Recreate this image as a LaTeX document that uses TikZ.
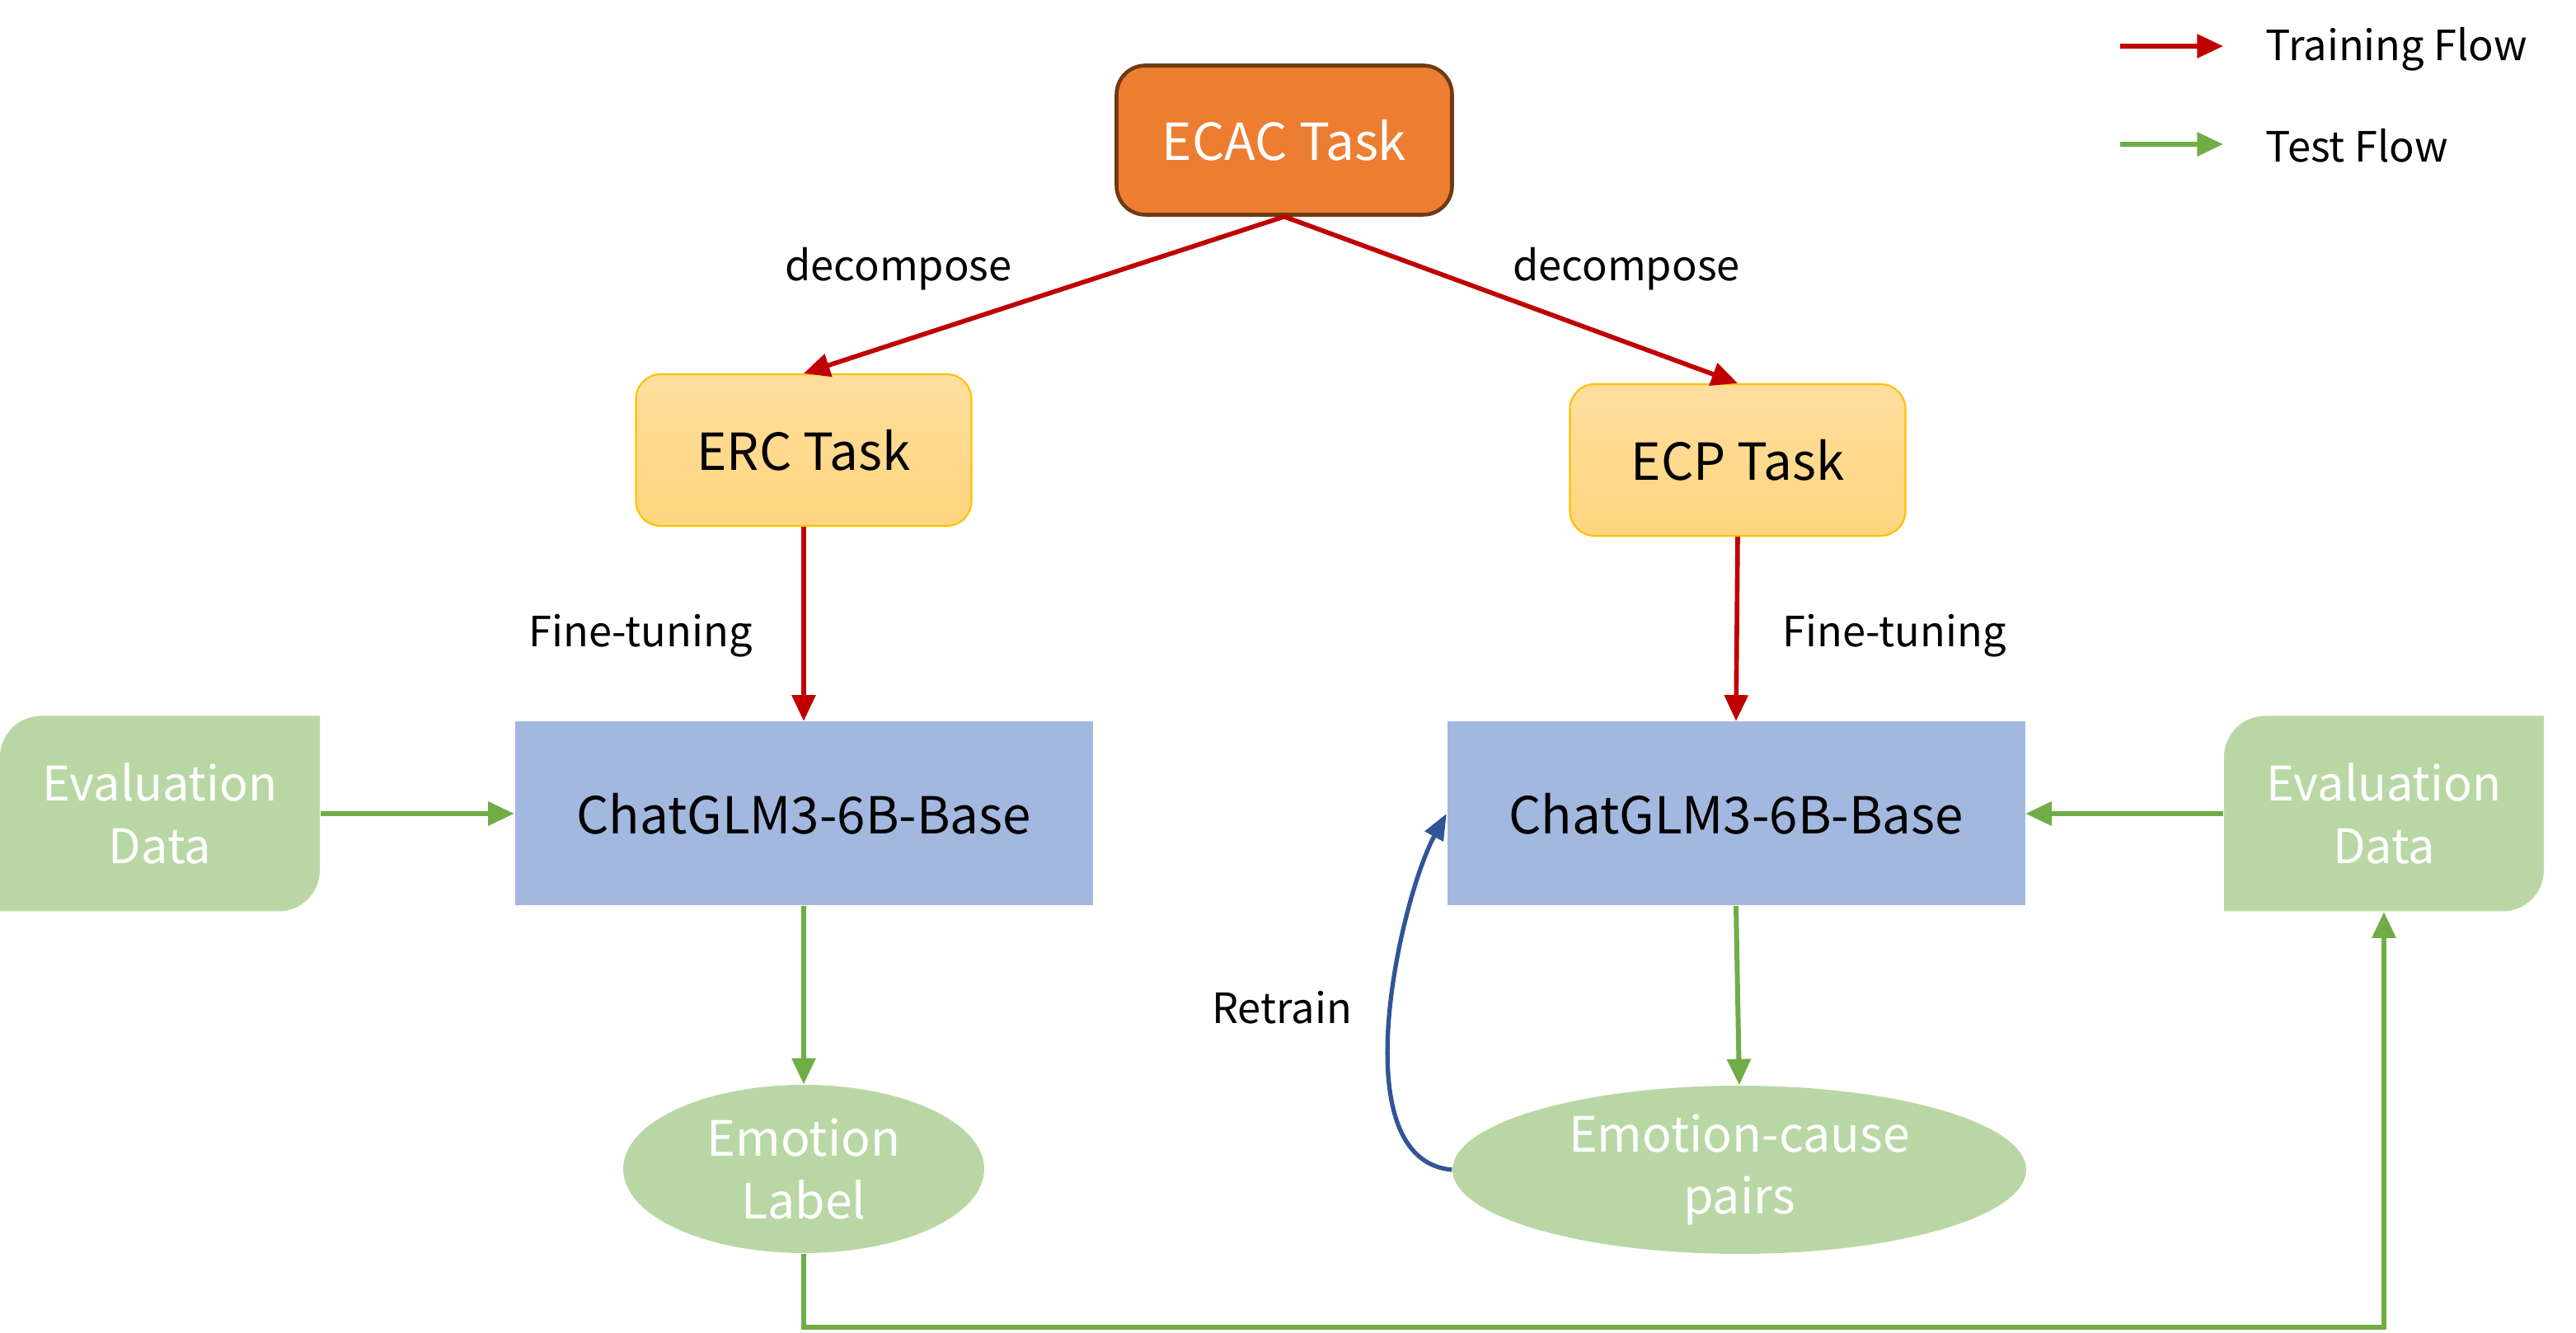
\documentclass[tikz,border=0pt]{standalone}
\usepackage{fontspec}
\setmainfont{Noto Sans CJK SC}
\usepackage{tikz}
\usetikzlibrary{arrows.meta,shapes.geometric}

\definecolor{ecacorange}{HTML}{ED7D31}
\definecolor{ecacbrown}{HTML}{6F3A12}
\definecolor{tasktop}{HTML}{FFDE9E}
\definecolor{taskbottom}{HTML}{FFD57E}
\definecolor{taskline}{HTML}{FFC000}
\definecolor{modelblue}{HTML}{A3B8DF}
\definecolor{datagreen}{HTML}{B9D7A5}
\definecolor{trainred}{HTML}{C00000}
\definecolor{testgreen}{HTML}{70AD47}
\definecolor{retrainblue}{HTML}{2F5597}

\begin{document}
\begin{tikzpicture}[
  big/.style={font=\fontsize{17.6}{21}\selectfont},
  lbl/.style={font=\fontsize{14.4}{17}\selectfont, inner sep=0pt},
  ecac/.style={big, draw=ecacbrown, line width=1.3pt, fill=ecacorange, text=white,
    rounded corners=0.35cm, minimum width=4.07cm, minimum height=1.81cm},
  task/.style={big, draw=taskline, line width=0.6pt, top color=tasktop, bottom color=taskbottom,
    rounded corners=0.3cm, minimum width=4.07cm, minimum height=1.84cm},
  model/.style={big, fill=modelblue, minimum width=7.01cm, minimum height=2.23cm},
  data/.style={font=\fontsize{16.4}{21.5}\selectfont, text=white, align=center,
    minimum width=3.88cm, minimum height=2.37cm,
    path picture={\fill[datagreen] (path picture bounding box.south west)
      -- ([yshift=-5mm]path picture bounding box.north west)
      arc[start angle=180, end angle=90, radius=5mm]
      -- (path picture bounding box.north east)
      -- ([yshift=5mm]path picture bounding box.south east)
      arc[start angle=0, end angle=-90, radius=5mm] -- cycle;}},
  result/.style={ellipse, fill=datagreen, text=white, align=center, inner sep=0pt,
    font=\fontsize{16.8}{21.5}\selectfont, minimum height=2.04cm},
  train/.style={draw=trainred, line width=1.6pt, -{Triangle[length=9pt,width=8pt]}},
  test/.style={draw=testgreen, line width=1.7pt, -{Triangle[length=9pt,width=8pt]}},
  retrain/.style={draw=retrainblue, line width=1.5pt, -{Triangle[length=9pt,width=7pt]}}
]
\useasboundingbox (0,0) rectangle (31.25,16.17);

% tasks
\node[ecac] (ecac) at (15.58,14.47) {ECAC Task};
\node[task] (erc) at (9.75,10.71) {ERC Task};
\node[task] (ecp) at (21.08,10.59) {ECP Task};

% models and data
\node[model] (glmL) at (9.75,6.30) {ChatGLM3-6B-Base};
\node[model] (glmR) at (21.06,6.30) {ChatGLM3-6B-Base};
\node[data] (evalL) at (1.94,6.30) {Evaluation\\Data};
\node[data] (evalR) at (28.92,6.30) {Evaluation\\Data};
\node[result, minimum width=4.38cm] (label) at (9.75,1.99) {Emotion\\Label};
\node[result, minimum width=6.96cm] (pairs) at (21.10,1.98) {Emotion-cause\\pairs};

% training flow
\draw[train] (ecac.south) -- (erc.north);
\draw[train] (ecac.south) -- (ecp.north);
\draw[train] (erc.south) -- (glmL.north);
\draw[train] (ecp.south) -- (glmR.north);
\node[lbl] (decL) at (10.90,12.91) {decompose};
\node[lbl] (decR) at (19.73,12.91) {decompose};
\node[lbl] (ftL) at (7.77,8.46) {Fine-tuning};
\node[lbl] (ftR) at (22.98,8.46) {Fine-tuning};

% test flow
\draw[test] (evalL.east) -- (glmL.west);
\draw[test] (evalR.west) -- (glmR.east);
\draw[test] (glmL.south) -- (label.north);
\draw[test] (glmR.south) -- (pairs.north);
\draw[test] (label.south) -- ++(0,-0.89) -| (evalR.south);

% retrain loop
\draw[retrain] (pairs.west) .. controls (16.25,2.1) and (17.0,5.3) .. (glmR.west);
\node[lbl] (retr) at (15.55,3.95) {Retrain};

% legend
\coordinate (trA) at (25.72,15.61);
\coordinate (trB) at (26.97,15.61);
\coordinate (teA) at (25.72,14.42);
\coordinate (teB) at (26.97,14.42);
\draw[train] (trA) -- (trB);
\draw[test] (teA) -- (teB);
\node[lbl, anchor=west] (trtxt) at (27.48,15.57) {Training Flow};
\node[lbl, anchor=west] (tetxt) at (27.48,14.40) {Test Flow};
\end{tikzpicture}
\end{document}
